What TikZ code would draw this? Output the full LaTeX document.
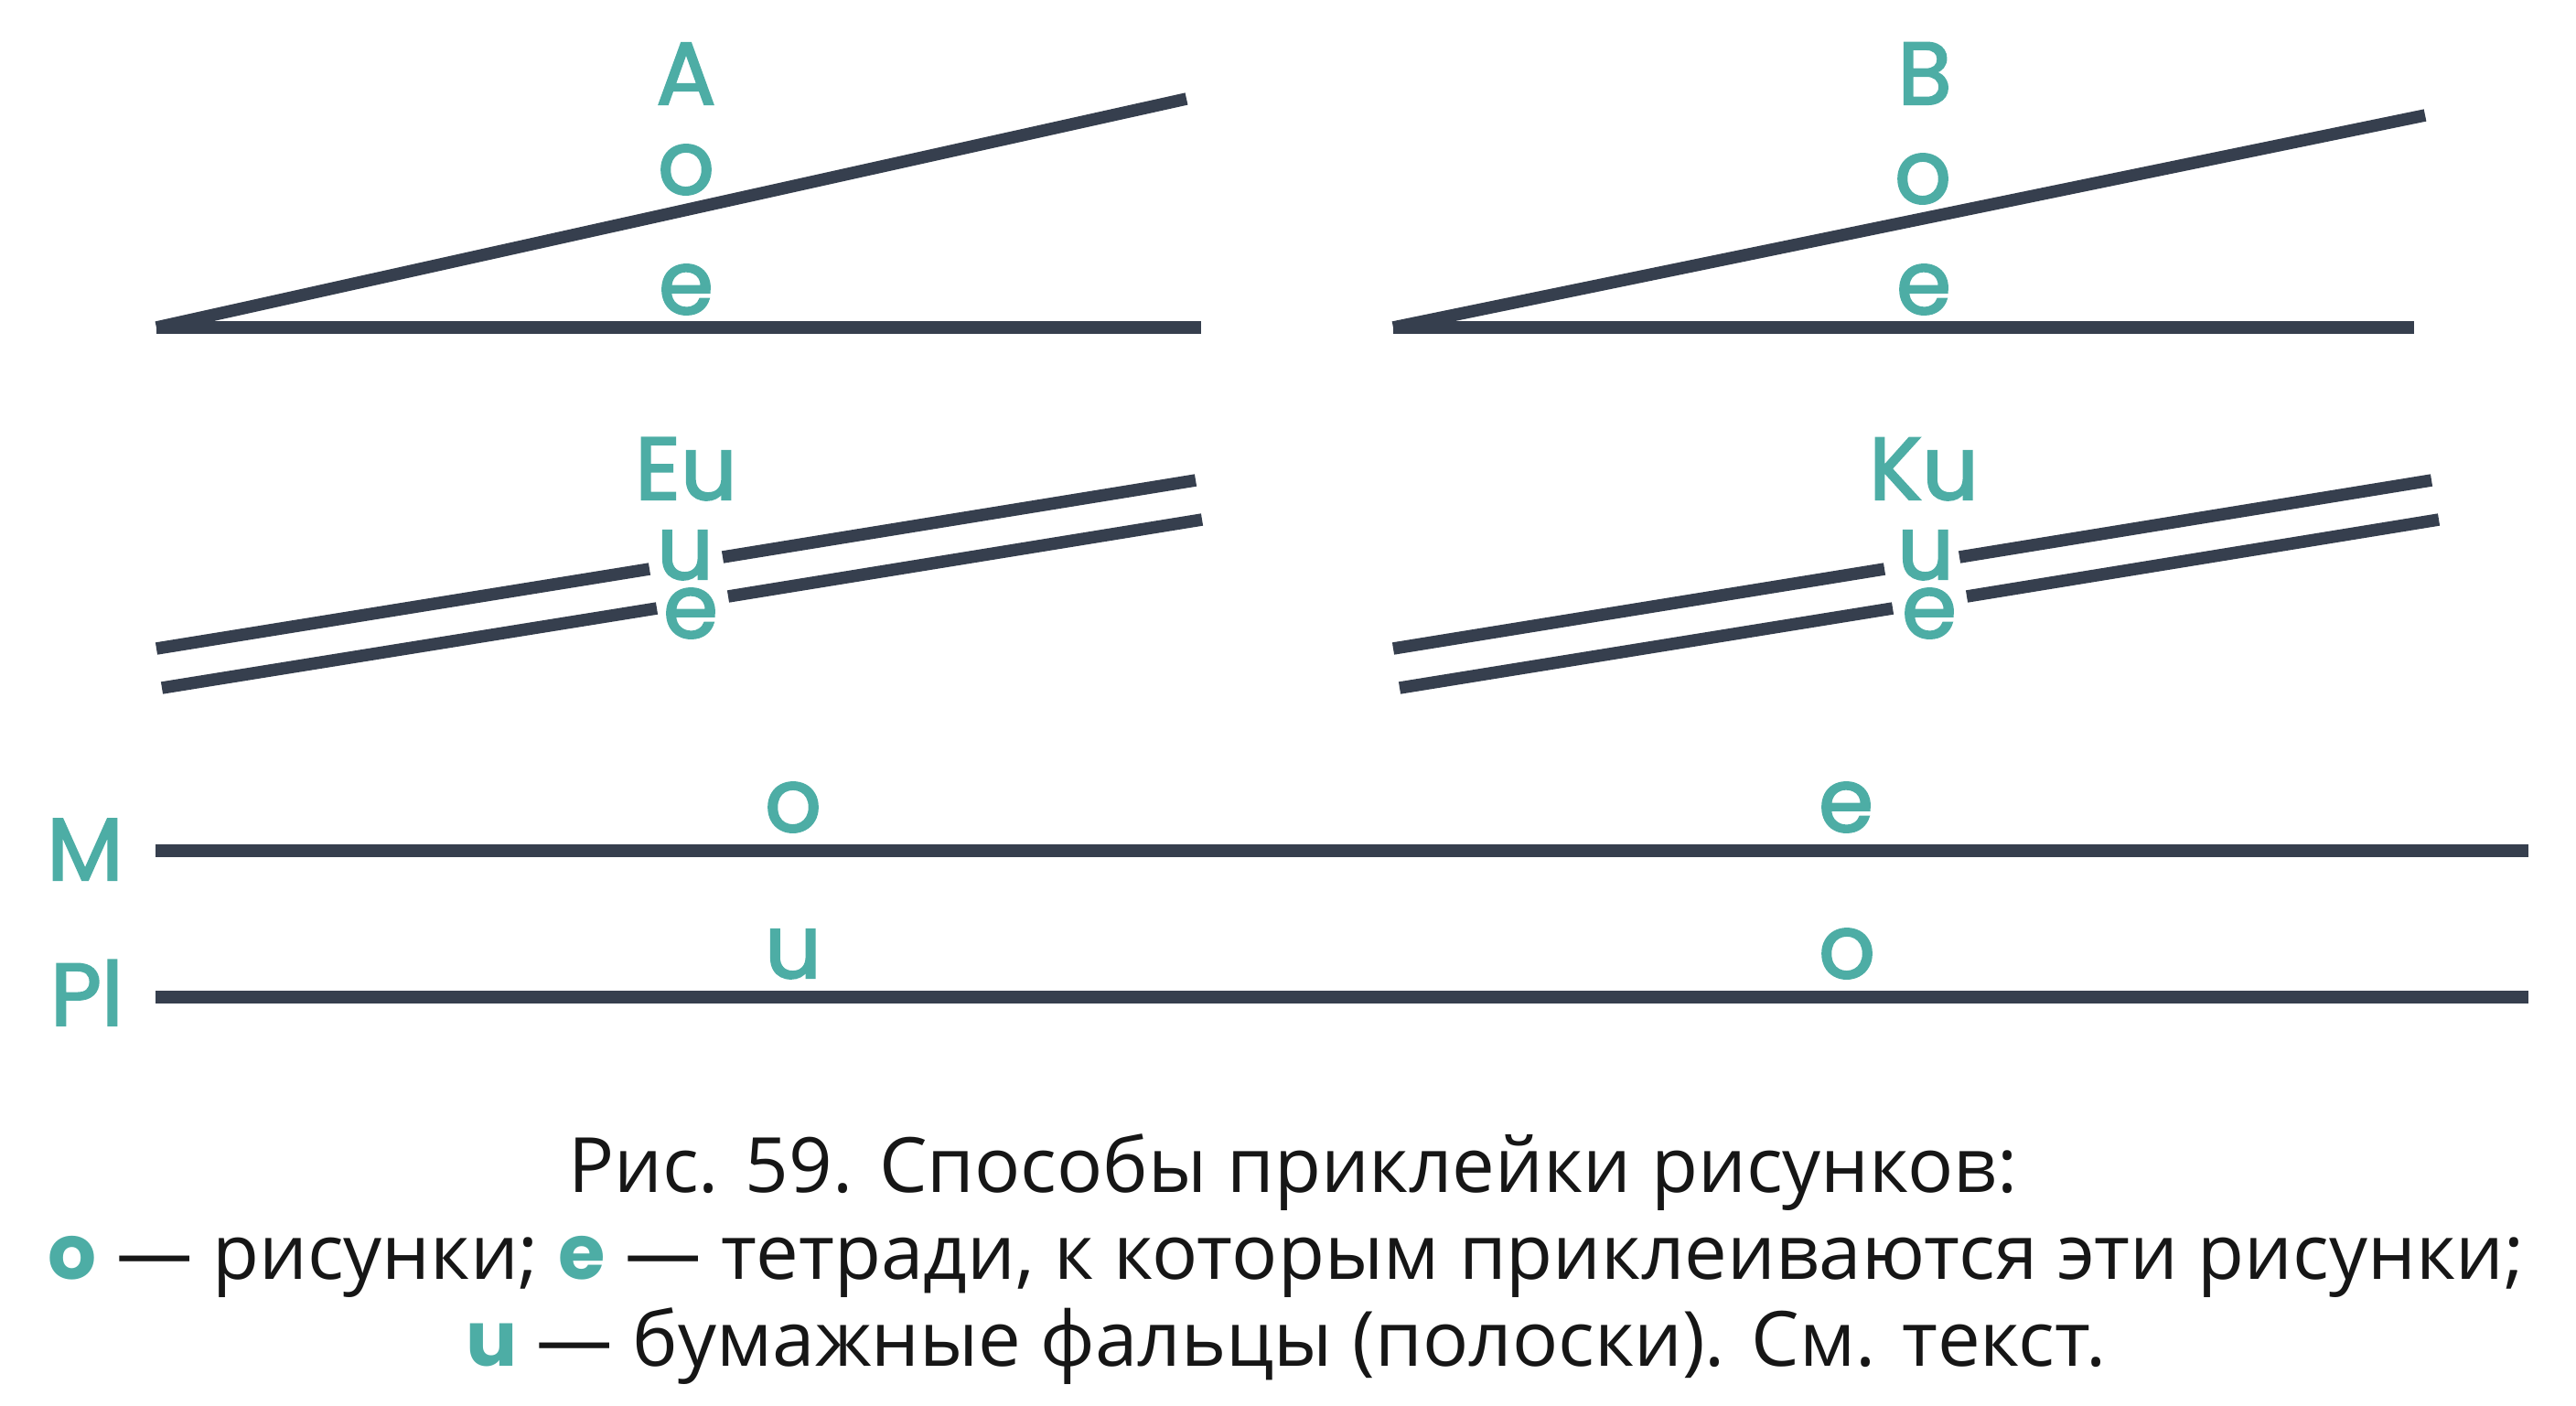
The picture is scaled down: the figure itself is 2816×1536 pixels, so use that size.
\documentclass[tikz,border=0pt]{standalone}
\usepackage{fontspec}
\setmainfont{Open Sans}
\newfontfamily\labfont[FakeBold=2.2]{Poppins}
\newfontfamily\hlfont{Poppins}
\definecolor{ink}{HTML}{363F4E}
\definecolor{mark}{HTML}{4DADA5}
\definecolor{captext}{HTML}{161616}
\newcommand{\hl}[1]{{\hlfont\bfseries\color{mark}#1}}

\begin{document}
\begin{tikzpicture}[x=0.01cm, y=-0.01cm,
    bar/.style={draw=ink, line width=0.135cm},
    lab/.style={text=mark, font=\labfont\fontsize{27.5}{27.5}\selectfont, inner sep=0pt, anchor=base},
    captxt/.style={text=captext, font=\fontsize{23.7}{23.7}\selectfont, inner sep=0pt, anchor=base}]

    \useasboundingbox (0,0) rectangle (2816,1536);

    % A and B
    \coordinate (a0) at (171,358);
    \coordinate (a1) at (1313,358);
    \coordinate (a2) at (1297,108);
    \coordinate (b0) at (1523,358);
    \coordinate (b1) at (2639,358);
    \coordinate (b2) at (2651,126);

    \node[lab] (A) at (750,114) {A};
    \node[lab] (Ao) at (750,212) {o};
    \node[lab] (Ae) at (750,343) {e};
    \node[lab] (B) at (2104,114) {B};
    \node[lab] (Bo) at (2102,222) {o};
    \node[lab] (Be) at (2103,343) {e};

    \path[bar]
        (a0) edge (a1)
        (a0) edge (a2)
        (b0) edge (b1)
        (b0) edge (b2)
        ;

    % Eu and Ku, strips broken at the fold
    \coordinate (eu1) at (171,709);  \coordinate (eu2) at (710,622);
    \coordinate (eu3) at (790,609);  \coordinate (eu4) at (1307,525);
    \coordinate (ee1) at (177,752);  \coordinate (ee2) at (718,665);
    \coordinate (ee3) at (796,652);  \coordinate (ee4) at (1314,568);
    \coordinate (ku1) at (1523,709); \coordinate (ku2) at (2060,622);
    \coordinate (ku3) at (2142,609); \coordinate (ku4) at (2658,525);
    \coordinate (ke1) at (1530,752); \coordinate (ke2) at (2069,665);
    \coordinate (ke3) at (2150,652); \coordinate (ke4) at (2666,568);

    \node[lab] (Eu) at (750,546) {Eu};
    \node[lab] (Euu) at (749,633) {u};
    \node[lab] (Eue) at (755,697) {e};
    \node[lab] (Ku) at (2103,546) {Ku};
    \node[lab] (Kuu) at (2105,633) {u};
    \node[lab] (Kue) at (2109,697) {e};

    \path[bar]
        (eu1) edge (eu2) (eu3) edge (eu4)
        (ee1) edge (ee2) (ee3) edge (ee4)
        (ku1) edge (ku2) (ku3) edge (ku4)
        (ke1) edge (ke2) (ke3) edge (ke4)
        ;

    % M and Pl
    \coordinate (m0) at (170,930);
    \coordinate (m1) at (2764,930);
    \coordinate (p0) at (170,1090);
    \coordinate (p1) at (2764,1090);

    \node[lab] (M) at (93,962) {M};
    \node[lab] (Pl) at (95,1121) {Pl};
    \node[lab] (Mo) at (867,909) {o};
    \node[lab] (Me) at (2018,909) {e};
    \node[lab] (Plu) at (867,1069) {u};
    \node[lab] (Plo) at (2019,1069) {o};

    \path[bar]
        (m0) edge (m1)
        (p0) edge (p1)
        ;

    % caption
    \node[captxt] (cap1) at (1413,1303) {Рис. 59. Способы приклейки рисунков:};
    \node[captxt] (cap2) at (1406,1398) {\hl{o} — рисунки; \hl{e} — тетради, к которым приклеиваются эти рисунки;};
    \node[captxt] (cap3) at (1406,1493) {\hl{u} — бумажные фальцы (полоски). См. текст.};
\end{tikzpicture}
\end{document}
